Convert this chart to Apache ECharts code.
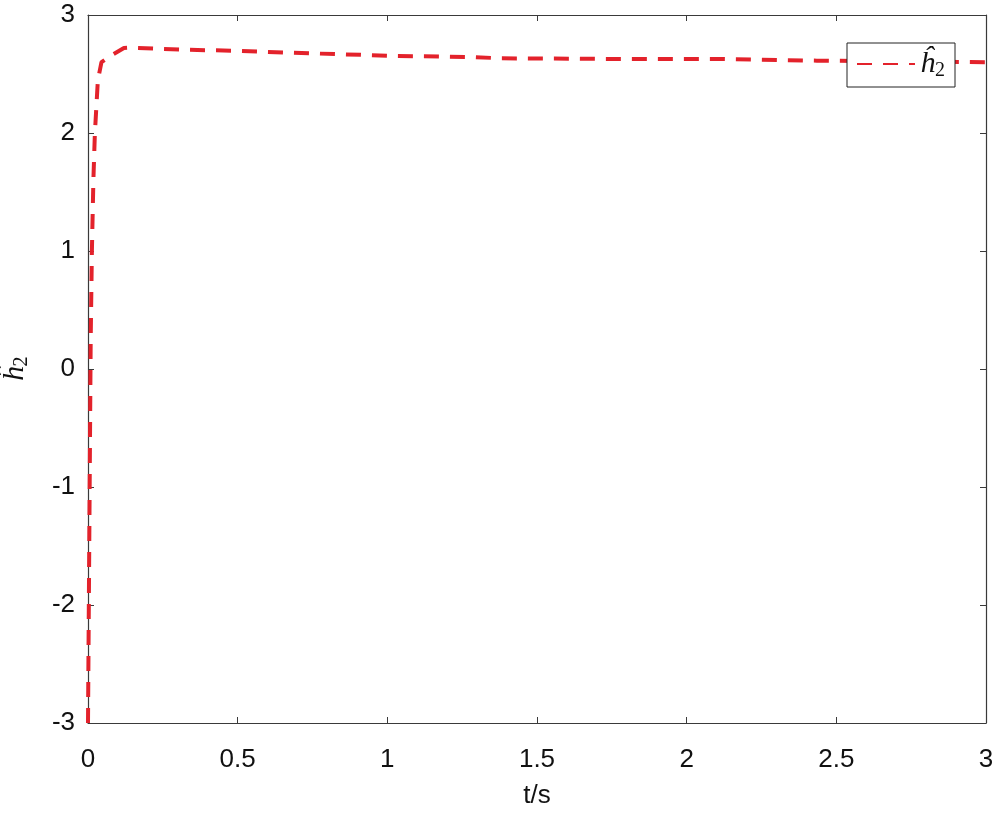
<!DOCTYPE html>
<html>
<head>
<meta charset="utf-8">
<script src="https://cdn.jsdelivr.net/npm/echarts@6/dist/echarts.min.js"></script>
<style>html,body{margin:0;padding:0;background:#fff}#c{width:1000px;height:816px}</style>
</head>
<body>
<div id="c"></div>
<script>
var tValues = [0, 0.005, 0.009, 0.013, 0.018, 0.023, 0.033, 0.045, 0.08, 0.12, 0.14, 0.317, 0.498, 0.675, 0.852, 1.032, 1.286, 1.376, 1.71, 2.11, 2.435, 3.0];
var h2Values = [-3, -1.2, 0.25, 1.0, 1.6, 2.0, 2.45, 2.6, 2.66, 2.72, 2.723, 2.706, 2.697, 2.68, 2.667, 2.653, 2.644, 2.633, 2.628, 2.627, 2.613, 2.6];
var xTicks = ['0', '0.5', '1', '1.5', '2', '2.5', '3'];
var yTicks = ['-3', '-2', '-1', '0', '1', '2', '3'];
var seriesName = 'h2';

var points = tValues.map(function (t, i) { return [t, h2Values[i]]; });
var axisColor = '#3a3a3a';
var font = 'Liberation Sans, Arial, Helvetica, sans-serif';
var serif = 'Liberation Serif, DejaVu Serif, serif';
var hatRich = {
  h: { fontFamily: serif, fontStyle: 'italic', fontSize: 30, color: '#111' },
  s: { fontFamily: serif, fontSize: 20, color: '#111', padding: [14, 0, 0, 0] }
};

var chart = echarts.init(document.getElementById('c'), null, { renderer: 'canvas' });
chart.setOption({
  animation: false,
  backgroundColor: '#fff',
  grid: { left: 88, right: 14, top: 15, bottom: 93, containLabel: false, outerBoundsMode: 'none' },
  legend: {
    data: [seriesName],
    left: 847, top: 43,
    padding: [6, 10, 6, 9],
    itemWidth: 58, itemHeight: 14, itemGap: 8,
    backgroundColor: '#fff', borderColor: '#222', borderWidth: 1,
    itemStyle: { opacity: 0 },
    formatter: function () { return '{h|ĥ}{s|2}'; },
    textStyle: { rich: hatRich }
  },
  xAxis: [{
    type: 'value', min: 0, max: 3, interval: 0.5, position: 'bottom',
    name: 't/s', nameLocation: 'middle', nameGap: 60,
    nameTextStyle: { fontFamily: font, fontSize: 26, color: '#111', verticalAlign: 'top' },
    axisLine: { show: true, onZero: false, lineStyle: { color: axisColor, width: 1.2 } },
    axisTick: { show: true, inside: true, length: 6, lineStyle: { color: axisColor } },
    axisLabel: { fontFamily: font, fontSize: 26, color: '#111', margin: 24,
      formatter: function (v) { return xTicks[Math.round(v / 0.5)]; } },
    splitLine: { show: false }
  }, {
    type: 'value', min: 0, max: 3, interval: 0.5, position: 'top',
    axisLine: { show: true, onZero: false, lineStyle: { color: axisColor, width: 1.2 } },
    axisTick: { show: true, inside: true, length: 6, lineStyle: { color: axisColor } },
    axisLabel: { show: false }, splitLine: { show: false }
  }],
  yAxis: [{
    type: 'value', min: -3, max: 3, interval: 1, position: 'left',
    name: '{h|ĥ}{s|2}', nameLocation: 'middle', nameGap: 56, nameRotate: 90,
    nameTextStyle: { rich: hatRich },
    axisLine: { show: true, onZero: false, lineStyle: { color: axisColor, width: 1.2 } },
    axisTick: { show: true, inside: true, length: 6, lineStyle: { color: axisColor } },
    axisLabel: { fontFamily: font, fontSize: 26, color: '#111', margin: 13,
      formatter: function (v) { return yTicks[Math.round(v + 3)]; } },
    splitLine: { show: false }
  }, {
    type: 'value', min: -3, max: 3, interval: 1, position: 'right',
    axisLine: { show: true, onZero: false, lineStyle: { color: axisColor, width: 1.2 } },
    axisTick: { show: true, inside: true, length: 6, lineStyle: { color: axisColor } },
    axisLabel: { show: false }, splitLine: { show: false }
  }],
  series: [{
    name: seriesName, type: 'line', data: points,
    xAxisIndex: 0, yAxisIndex: 0,
    showSymbol: false, symbol: 'none', smooth: false,
    lineStyle: { color: '#e3222b', width: 4, type: [15, 11] },
    itemStyle: { color: '#e3222b' }
  }]
});
</script>
</body>
</html>
